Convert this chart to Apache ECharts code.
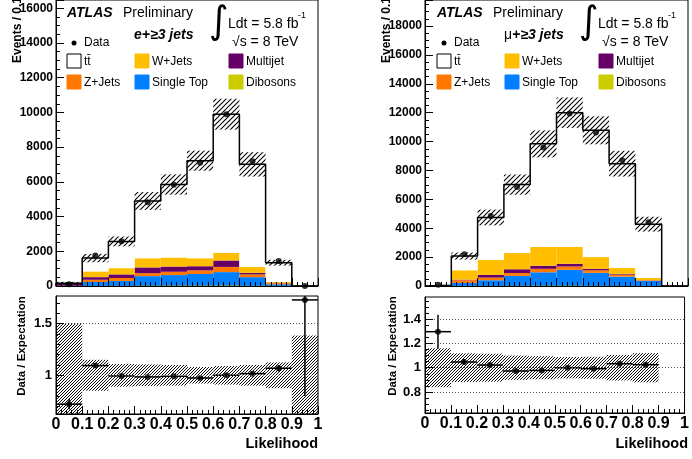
<!DOCTYPE html>
<html lang="en">
<head>
<meta charset="UTF-8">
<title>Likelihood discriminant, e+jets and mu+jets</title>
<script src="https://cdn.jsdelivr.net/npm/echarts@6/dist/echarts.min.js"></script>
<style>
  html, body { margin: 0; padding: 0; background: #fff; }
  #main { width: 692px; height: 459px; }
</style>
</head>
<body>
<div id="main"></div>
<script>
// likelihood bins (low edge), width 0.1
var binLow = [0, 0.1, 0.2, 0.3, 0.4, 0.5, 0.6, 0.7, 0.8, 0.9];
var binWidth = 0.1;

// e + >=3 jets (events per bin)
var eDibosons  = [2, 10, 15, 25, 30, 30, 35, 20, 5, 0];
var eSingleTop = [8, 220, 275, 545, 600, 660, 765, 490, 95, 1];
var eZJets     = [10, 130, 170, 170, 190, 210, 300, 160, 70, 0];
var eMultijet  = [110, 150, 210, 330, 300, 240, 370, 90, 20, 1];
var eWJets     = [20, 330, 360, 530, 520, 460, 450, 330, 40, 0];
var eTtbar     = [10, 770, 1540, 3300, 4210, 5620, 7980, 5920, 1115, 2];
var eData      = [100, 1760, 2580, 4830, 5830, 7100, 9900, 7190, 1440, 7];
var eUnc       = [0.5, 0.15, 0.11, 0.105, 0.1, 0.08, 0.09, 0.1, 0.125, 0.385];
var eRatio     = [0.72, 1.094, 0.994, 0.984, 0.99, 0.974, 1.0, 1.016, 1.068, 1.73];
var eRatioErr  = [0.05, 0.02, 0.015, 0.01, 0.01, 0.01, 0.01, 0.01, 0.03, 0.93];

// mu + >=3 jets
var mDibosons  = [0, 5, 10, 20, 30, 30, 20, 10, 5, 0];
var mSingleTop = [10, 205, 390, 680, 920, 1090, 890, 640, 345, 0];
var mZJets     = [5, 190, 180, 200, 240, 230, 180, 140, 45, 0];
var mMultijet  = [10, 40, 190, 260, 210, 185, 100, 50, 10, 0];
var mWJets     = [30, 650, 1040, 1120, 1300, 1165, 810, 416, 155, 0];
var mTtbar     = [5, 980, 2935, 4740, 7140, 9300, 8780, 7214, 3720, 0];
var mData      = [90, 2190, 4840, 6860, 9580, 11950, 10630, 8700, 4420, null];
var mUnc       = [0.16, 0.118, 0.115, 0.1, 0.095, 0.088, 0.09, 0.105, 0.12, null];
var mRatio     = [1.296, 1.047, 1.022, 0.973, 0.978, 1.0, 0.992, 1.033, 1.025, null];
var mRatioErr  = [0.14, 0.025, 0.015, 0.012, 0.01, 0.01, 0.01, 0.011, 0.015, null];

// axis ticks
var eRatioLabels = [1, 1.5];
var eRatioMinor  = [0.7, 0.8, 0.9, 1.1, 1.2, 1.3, 1.4, 1.6, 1.7];
var mRatioLabels = [0.8, 1, 1.2, 1.4];
var mRatioMinor  = [0.65, 0.7, 0.75, 0.85, 0.9, 0.95, 1.05, 1.1, 1.15, 1.25, 1.3, 1.35, 1.45, 1.5, 1.55];

var compNames  = ['Dibosons', 'Single Top', 'Z+Jets', 'Multijet', 'W+Jets', 'tt\u0304'];
var compColors = ['#cccc00', '#0080ff', '#ff7800', '#660066', '#ffbf00', '#ffffff'];

var FONT = '"Liberation Sans", Arial, sans-serif';

function hatch(size, lw) {
    var c = document.createElement('canvas');
    c.width = size; c.height = size;
    var g = c.getContext('2d');
    g.strokeStyle = '#000';
    g.lineWidth = lw;
    g.beginPath();
    g.moveTo(-1, size + 1); g.lineTo(size + 1, -1);
    g.moveTo(-1, 1); g.lineTo(1, -1);
    g.moveTo(size - 1, size + 1); g.lineTo(size + 1, size - 1);
    g.stroke();
    return c;
}
var hatchTop = { image: hatch(5, 1.1), repeat: 'repeat' };
var hatchRatio = { image: hatch(3, 0.95), repeat: 'repeat' };

function rectRender(fill) {
    return function (params, api) {
        var a = api.coord([api.value(0), api.value(3)]);
        var b = api.coord([api.value(1), api.value(2)]);
        var cs = params.coordSys;
        var shape = echarts.graphic.clipRectByRect(
            { x: a[0], y: a[1], width: b[0] - a[0], height: b[1] - a[1] },
            { x: cs.x, y: cs.y, width: cs.width, height: cs.height });
        return shape && { type: 'rect', shape: shape, style: { fill: fill } };
    };
}

function errRender(params, api) {
    var cs = params.coordSys;
    var x0 = api.coord([api.value(0), api.value(2)]);
    var x1 = api.coord([api.value(1), api.value(2)]);
    var lo = api.coord([0, api.value(2) - api.value(3)])[1];
    var hi = api.coord([0, api.value(2) + api.value(3)])[1];
    lo = Math.min(lo, cs.y + cs.height);
    hi = Math.max(hi, cs.y);
    var xm = (x0[0] + x1[0]) / 2;
    return {
        type: 'group',
        children: [
            { type: 'line', shape: { x1: x0[0], y1: x0[1], x2: x1[0], y2: x1[1] }, style: { stroke: '#000', lineWidth: 1.5 } },
            { type: 'line', shape: { x1: xm, y1: lo, x2: xm, y2: hi }, style: { stroke: '#000', lineWidth: 1.5 } }
        ]
    };
}

function panelSeries(g, comps, data, unc, ratio, ratioErr, dashVals) {
    var out = [];
    var base = binLow.map(function () { return 0; });
    comps.forEach(function (vals, k) {
        var rects = [];
        binLow.forEach(function (x, i) {
            if (vals[i] > 0) rects.push([x, x + binWidth, base[i], base[i] + vals[i]]);
            base[i] += vals[i];
        });
        out.push({
            type: 'custom', name: compNames[k], xAxisIndex: g, yAxisIndex: g,
            renderItem: rectRender(compColors[k]), encode: { x: [0, 1], y: [2, 3] },
            data: rects, silent: true
        });
    });
    var total = base;
    // MC uncertainty band
    var band = [];
    binLow.forEach(function (x, i) {
        if (unc[i] != null && total[i] > 0) band.push([x, x + binWidth, total[i] * (1 - unc[i]), total[i] * (1 + unc[i])]);
    });
    out.push({
        type: 'custom', xAxisIndex: g, yAxisIndex: g, renderItem: rectRender(hatchTop),
        encode: { x: [0, 1], y: [2, 3] }, data: band, silent: true
    });
    // outline of the stack
    var step = [[0, 0]];
    binLow.forEach(function (x, i) {
        step.push([x, total[i]]);
        step.push([x + binWidth, total[i]]);
    });
    step.push([1, 0]);
    out.push({
        type: 'line', xAxisIndex: g, yAxisIndex: g, data: step, showSymbol: false,
        lineStyle: { color: '#000', width: 1.5 }, silent: true
    });
    out.push({
        type: 'scatter', xAxisIndex: g, yAxisIndex: g, symbolSize: 6,
        itemStyle: { color: '#000' }, silent: true,
        data: binLow.map(function (x, i) { return data[i] == null ? null : [x + binWidth / 2, data[i]]; })
            .filter(function (d) { return d; })
    });
    // ratio pad
    var r = g + 2;
    var rband = [];
    binLow.forEach(function (x, i) {
        if (unc[i] != null) rband.push([x, x + binWidth, 1 - unc[i], 1 + unc[i]]);
    });
    out.push({
        type: 'custom', xAxisIndex: r, yAxisIndex: r, renderItem: rectRender(hatchRatio),
        encode: { x: [0, 1], y: [2, 3] }, data: rband, silent: true
    });
    var errs = [];
    binLow.forEach(function (x, i) {
        if (ratio[i] != null) errs.push([x, x + binWidth, ratio[i], ratioErr[i]]);
    });
    out.push({
        type: 'custom', xAxisIndex: r, yAxisIndex: r, renderItem: errRender,
        encode: { x: [0, 1], y: 2 }, data: errs, silent: true
    });
    out.push({
        type: 'scatter', xAxisIndex: r, yAxisIndex: r, symbolSize: 6,
        itemStyle: { color: '#000' }, silent: true,
        data: binLow.map(function (x, i) { return ratio[i] == null ? null : [x + binWidth / 2, ratio[i]]; })
            .filter(function (d) { return d; }),
        markLine: {
            silent: true, symbol: 'none', label: { show: false }, animation: false,
            lineStyle: { type: [1, 2], color: '#555', width: 1 },
            data: dashVals.map(function (v) { return { yAxis: v }; })
        }
    });
    return out;
}

function xAxisCfg(grid, labels) {
    return {
        type: 'value', gridIndex: grid, min: 0, max: 1, interval: 0.1, z: 10,
        axisLine: { lineStyle: { color: '#000', width: 1 } },
        axisTick: { inside: true, length: 8, lineStyle: { color: '#000' } },
        minorTick: { show: true, splitNumber: 5, length: 4, lineStyle: { color: '#000' } },
        splitLine: { show: false },
        axisLabel: { show: labels, color: '#000', fontFamily: FONT, fontWeight: 'bold', fontSize: 16, margin: 3 }
    };
}

function yTopCfg(grid, max) {
    return {
        type: 'value', gridIndex: grid, min: 0, max: max, interval: 2000, z: 10,
        axisLine: { lineStyle: { color: '#000' } },
        axisTick: { inside: true, length: 8, lineStyle: { color: '#000' } },
        minorTick: { show: true, splitNumber: 4, length: 4, lineStyle: { color: '#000' } },
        splitLine: { show: false },
        axisLabel: {
            color: '#000', fontFamily: FONT, fontWeight: 'bold', fontSize: 12, margin: 3, showMaxLabel: false,
            formatter: function (v) { return String(v); }
        }
    };
}

function yRatioCfg(grid, min, max, labels) {
    return {
        type: 'value', gridIndex: grid, min: min, max: max, z: 10,
        axisLine: { lineStyle: { color: '#000' } },
        axisTick: { inside: true, length: 8, customValues: labels, lineStyle: { color: '#000' } },
        splitLine: { show: false },
        axisLabel: { customValues: labels, color: '#000', fontFamily: FONT, fontWeight: 'bold', fontSize: 13, margin: 4 }
    };
}
function yMinorCfg(grid, min, max, ticks) {
    return {
        type: 'value', gridIndex: grid, min: min, max: max, z: 10, position: 'left',
        axisLine: { show: false },
        axisTick: { inside: true, length: 4, customValues: ticks, lineStyle: { color: '#000' } },
        splitLine: { show: false },
        axisLabel: { show: false }
    };
}

function txt(x, y, text, size, weight, style, extra) {
    var s = {
        text: text, x: 0, y: 0, fill: '#000', fontFamily: FONT, fontSize: size,
        fontWeight: weight || 'normal', fontStyle: style || 'normal',
        align: 'left', verticalAlign: 'middle'
    };
    if (extra) for (var k in extra) s[k] = extra[k];
    return { type: 'text', x: x, y: y, style: s, z: 100 };
}

function legendGraphics(dx, chan) {
    var el = [];
    el.push(txt(67 + dx, 13.5, 'ATLAS', 14, 'bold', 'italic'));
    el.push(txt(123 + dx, 13.5, 'Preliminary', 14));
    el.push(chan);
    el.push(txt(209 + dx, 23, '\u222B', 38, 'normal', 'normal', { fontFamily: '"DejaVu Sans", sans-serif' }));
    el.push(txt(228 + dx, 24, 'Ldt = 5.8 fb', 14));
    el.push(txt(298 + dx, 16, '-1', 9));
    el.push(txt(232 + dx, 42, '\u221As = 8 TeV', 14));
    el.push({ type: 'circle', shape: { cx: 74 + dx, cy: 43, r: 2.5 }, style: { fill: '#000' }, z: 100 });
    el.push(txt(84 + dx, 43, 'Data', 12));
    var cols = [67, 135, 229];
    var order = [5, 4, 3, 2, 1, 0];
    order.forEach(function (k, j) {
        var bx = cols[j % 3] + dx, by = j < 3 ? 54 : 75;
        el.push({
            type: 'rect', shape: { x: bx, y: by, width: 14, height: 14 },
            style: { fill: compColors[k], stroke: k === 5 ? '#000' : compColors[k], lineWidth: 1 }, z: 100
        });
        el.push(txt(bx + 17, by + 7.5, compNames[k], 12));
    });
    return el;
}

var chart = echarts.init(document.getElementById('main'), null, { renderer: 'canvas' });

var series = []
    .concat(panelSeries(0, [eDibosons, eSingleTop, eZJets, eMultijet, eWJets, eTtbar],
        eData, eUnc, eRatio, eRatioErr, [1, 1.5]))
    .concat(panelSeries(1, [mDibosons, mSingleTop, mZJets, mMultijet, mWJets, mTtbar],
        mData, mUnc, mRatio, mRatioErr, [0.8, 1, 1.2, 1.4]));

var graphics = []
    .concat(legendGraphics(0, txt(134, 35, 'e+\u22653 jets', 14, 'bold', 'italic')))
    .concat(legendGraphics(370, {
        type: 'text', x: 504, y: 35, z: 100,
        style: {
            text: '{m|\u03BC}{b|+\u22653 jets}', verticalAlign: 'middle', align: 'left',
            rich: {
                m: { fontFamily: FONT, fontSize: 14, fill: '#000' },
                b: { fontFamily: FONT, fontSize: 14, fontWeight: 'bold', fontStyle: 'italic', fill: '#000' }
            }
        }
    }));
graphics.push({ type: 'text', x: 18, y: 63, rotation: Math.PI / 2, z: 100,
    style: { text: 'Events / 0.1', fontFamily: FONT, fontSize: 12, fontWeight: 'bold', fill: '#000', align: 'left', verticalAlign: 'middle' } });
graphics.push({ type: 'text', x: 387, y: 63, rotation: Math.PI / 2, z: 100,
    style: { text: 'Events / 0.1', fontFamily: FONT, fontSize: 12, fontWeight: 'bold', fill: '#000', align: 'left', verticalAlign: 'middle' } });
graphics.push({ type: 'text', x: 22, y: 346, rotation: Math.PI / 2, z: 100,
    style: { text: 'Data / Expectation', fontFamily: FONT, fontSize: 11.5, fontWeight: 'bold', fill: '#000', align: 'center', verticalAlign: 'middle' } });
graphics.push({ type: 'text', x: 393, y: 346, rotation: Math.PI / 2, z: 100,
    style: { text: 'Data / Expectation', fontFamily: FONT, fontSize: 11.5, fontWeight: 'bold', fill: '#000', align: 'center', verticalAlign: 'middle' } });
graphics.push(txt(318, 444, 'Likelihood', 14.5, 'bold', 'normal', { align: 'right' }));
graphics.push(txt(688, 444, 'Likelihood', 14.5, 'bold', 'normal', { align: 'right' }));

var option = {
    animation: false,
    backgroundColor: '#fff',
    grid: [
        { left: 56, top: 0, width: 262, height: 286, show: true, borderColor: '#000', borderWidth: 1 },
        { left: 425, top: 0, width: 263, height: 286, show: true, borderColor: '#000', borderWidth: 1 },
        { left: 56, top: 296, width: 262, height: 118, show: true, borderColor: '#000', borderWidth: 1 },
        { left: 425, top: 297, width: 263, height: 116, show: true, borderColor: '#000', borderWidth: 1 }
    ],
    xAxis: [xAxisCfg(0, false), xAxisCfg(1, false), xAxisCfg(2, true), xAxisCfg(3, true)],
    yAxis: [
        yTopCfg(0, 16480), yTopCfg(1, 19800),
        yRatioCfg(2, 0.625, 1.768, eRatioLabels), yRatioCfg(3, 0.628, 1.581, mRatioLabels),
        yMinorCfg(2, 0.625, 1.768, eRatioMinor), yMinorCfg(3, 0.628, 1.581, mRatioMinor)
    ],
    series: series,
    graphic: graphics
};
chart.setOption(option);
</script>
</body>
</html>
